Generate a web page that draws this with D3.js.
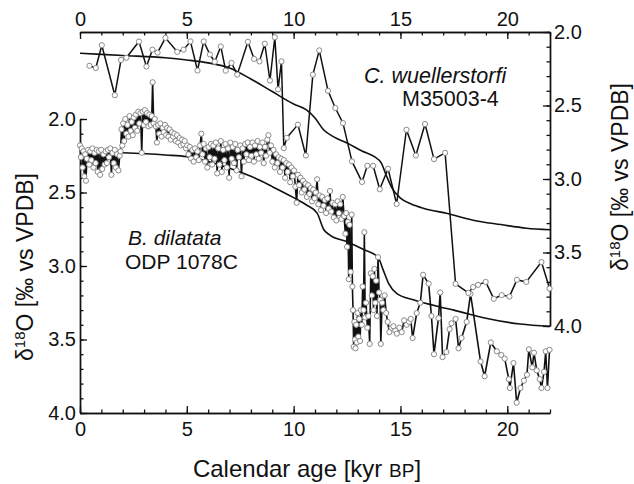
<!DOCTYPE html>
<html>
<head>
<meta charset="utf-8">
<script src="https://cdn.jsdelivr.net/npm/d3@7"></script>
<style>
  html, body { margin: 0; padding: 0; background: #fff; }
  svg { display: block; font-family: "Liberation Sans", Arial, sans-serif; }
</style>
</head>
<body>
<svg id="chart" width="634" height="484"></svg>
<script>
// ---------- DATA ----------
// C. wuellerstorfi, core M35003-4 (right axis): [age kyr BP, d18O]
const wuellerstorfi = [
  [0.44,2.23],[0.74,2.245],[1.02,2.09],[1.63,2.43],[1.92,2.19],[2.17,2.175],[2.76,2.065],
  [3.11,2.235],[3.39,2.12],[3.63,2.14],[4.00,2.04],[4.55,2.135],[4.85,2.12],[5.17,2.064],
  [5.50,2.262],[5.79,2.064],[6.08,2.153],[6.31,2.202],[6.59,2.098],[6.82,2.263],[7.09,2.21],
  [7.36,2.29],[7.86,2.067],[8.15,2.183],[8.40,2.2],[8.65,2.08],[8.89,2.33],[9.12,2.036],
  [9.27,2.39],[9.43,2.2],[9.54,2.79],[9.68,2.72],[10.2,2.63],[10.57,2.84],[10.9,2.29],
  [11.2,2.125],[11.61,2.40],[11.95,2.517],[12.31,2.62],[12.73,2.88],[13.2,3.02],[13.45,2.91],
  [13.72,2.91],[14.03,3.07],[14.42,2.93],[14.82,3.17],[15.28,2.665],[15.72,2.84],[16.15,2.626],
  [16.57,2.865],[17.09,2.822],[17.58,3.713],[18.18,3.775],[18.4,3.735],[18.63,3.72],[18.99,3.70],
  [19.37,3.815],[19.74,3.79],[20.1,3.80],[20.45,3.686],[20.89,3.70],[21.6,3.565],[21.98,3.745]
];
// smooth reference curve on the right axis
const wuellerstorfiCurve = [
  [0,2.145],[2,2.16],[4,2.175],[5,2.19],[6,2.21],[7,2.245],[8,2.32],[9,2.405],[10,2.49],
  [10.6,2.53],[11.0,2.585],[11.4,2.665],[11.9,2.715],[12.5,2.755],[13.2,2.81],[13.8,2.85],
  [14.1,2.89],[14.35,2.98],[14.6,3.06],[15.0,3.13],[15.5,3.17],[16.1,3.2],[17.2,3.235],
  [18.4,3.28],[19.7,3.31],[20.9,3.335],[22.0,3.345]
];
// B. dilatata, ODP 1078C (left axis): [age kyr BP, d18O]
const dilatata = [
  [0.00,2.18],[0.04,2.26],[0.08,2.20],[0.12,2.33],[0.16,2.22],[0.20,2.39],[0.24,2.24],[0.28,2.42],
  [0.32,2.27],[0.38,2.21],[0.43,2.31],[0.48,2.22],[0.53,2.28],[0.58,2.20],[0.63,2.33],[0.68,2.23],
  [0.73,2.30],[0.78,2.21],[0.83,2.36],[0.88,2.22],[0.94,2.38],[0.99,2.21],[1.04,2.34],[1.10,2.24],
  [1.15,2.31],[1.20,2.22],[1.26,2.30],[1.31,2.21],[1.36,2.26],[1.42,2.20],[1.47,2.38],[1.52,2.23],
  [1.58,2.30],[1.63,2.21],[1.68,2.33],[1.74,2.24],[1.80,2.35],[1.86,2.25],[1.90,2.22],
  [1.94,2.07],[1.98,2.18],[2.02,2.03],[2.07,2.15],[2.12,2.00],[2.17,2.10],[2.22,2.04],[2.27,2.12],
  [2.32,1.98],[2.37,2.08],[2.42,2.02],[2.47,2.11],[2.52,1.99],[2.57,2.06],[2.62,1.97],[2.68,2.08],
  [2.73,1.95],[2.78,2.03],[2.83,1.96],[2.89,2.23],[2.94,1.95],[2.99,2.04],[3.04,1.94],[3.09,2.02],
  [3.14,1.96],[3.20,2.05],[3.25,1.97],[3.31,2.04],[3.36,1.98],[3.40,1.75],[3.45,2.03],[3.50,2.00],
  [3.55,2.05],[3.60,2.16],[3.66,2.04],[3.71,2.10],[3.76,2.03],[3.82,2.12],[3.87,2.06],[3.92,2.09],
  [3.98,2.04],[4.03,2.11],[4.08,2.06],[4.14,2.12],[4.19,2.07],[4.25,2.14],[4.30,2.09],[4.36,2.12],
  [4.42,2.10],[4.48,2.15],[4.54,2.11],[4.60,2.16],[4.66,2.13],[4.72,2.18],[4.78,2.14],[4.84,2.17],
  [4.90,2.15],[4.96,2.20],[5.02,2.18],[5.08,2.24],[5.14,2.19],[5.20,2.27],[5.26,2.21],[5.32,2.29],
  [5.38,2.20],[5.44,2.26],[5.50,2.22],[5.56,2.28],[5.62,2.18],[5.68,2.10],[5.73,2.24],[5.79,2.17],
  [5.85,2.29],[5.90,2.20],[5.96,2.33],[6.02,2.19],[6.07,2.26],[6.13,2.17],[6.19,2.31],[6.24,2.18],
  [6.30,2.27],[6.36,2.16],[6.42,2.37],[6.47,2.20],[6.53,2.31],[6.59,2.15],[6.64,2.36],[6.70,2.21],
  [6.76,2.28],[6.81,2.17],[6.87,2.33],[6.93,2.20],[6.98,2.40],[7.04,2.16],[7.10,2.27],[7.15,2.19],
  [7.21,2.30],[7.27,2.17],[7.33,2.35],[7.38,2.21],[7.44,2.26],[7.50,2.18],[7.56,2.39],[7.61,2.20],
  [7.67,2.29],[7.73,2.17],[7.79,2.24],[7.85,2.16],[7.91,2.28],[7.96,2.19],[8.02,2.25],[8.08,2.16],
  [8.14,2.29],[8.19,2.18],[8.25,2.24],[8.31,2.15],[8.37,2.27],[8.42,2.19],[8.48,2.23],[8.54,2.16],
  [8.60,2.30],[8.66,2.19],[8.71,2.25],[8.77,2.14],[8.82,2.11],[8.88,2.23],[8.94,2.18],
  [9.00,2.29],[9.06,2.21],[9.12,2.33],[9.18,2.24],[9.24,2.30],[9.30,2.26],[9.36,2.36],[9.42,2.27],
  [9.48,2.33],[9.54,2.28],[9.60,2.40],[9.66,2.30],[9.72,2.36],[9.78,2.31],[9.84,2.43],[9.90,2.33],
  [9.96,2.39],[10.02,2.35],[10.08,2.46],[10.14,2.57],[10.20,2.38],[10.26,2.45],[10.32,2.40],[10.38,2.50],
  [10.44,2.42],[10.50,2.48],[10.56,2.44],[10.62,2.53],[10.68,2.45],[10.74,2.51],[10.80,2.47],[10.86,2.56],
  [10.92,2.48],[10.98,2.54],[11.04,2.50],[11.10,2.41],[11.16,2.58],[11.22,2.52],[11.28,2.62],[11.34,2.53],
  [11.40,2.59],[11.46,2.55],[11.52,2.64],[11.58,2.54],[11.64,2.61],[11.70,2.49],[11.76,2.63],[11.82,2.57],
  [11.88,2.67],[11.94,2.58],[12.00,2.69],[12.06,2.56],[12.12,2.64],[12.18,2.58],[12.24,2.68],[12.30,2.53],
  [12.36,2.66],[12.42,2.78],[12.46,2.64],[12.50,2.87],[12.54,2.70],[12.58,3.09],[12.62,2.72],[12.67,3.04],
  [12.72,2.65],[12.75,3.14],[12.78,3.30],[12.81,3.55],[12.84,3.38],[12.87,3.50],[12.90,3.56],[12.93,3.40],
  [12.96,3.52],[12.99,3.32],[13.03,3.48],[13.07,3.36],[13.11,3.51],[13.15,3.30],[13.19,3.40],[13.23,3.14],
  [13.27,3.30],[13.31,2.77],[13.35,3.35],[13.39,3.25],[13.45,3.42],[13.50,3.34],[13.56,3.53],[13.61,3.05],
  [13.66,3.20],[13.70,3.07],[13.74,3.30],[13.78,3.02],[13.82,3.25],[13.86,3.10],[13.90,3.34],[13.95,2.94],
  [14.00,3.18],[14.05,3.23],[14.08,3.53],[14.14,3.25],[14.20,3.30],[14.26,3.20],[14.33,3.32],[14.40,3.38],
  [14.48,3.45],[14.58,3.42],[14.67,3.41],[14.76,3.44],[14.83,3.46],[14.95,3.42],[15.06,3.45],[15.17,3.37],
  [15.29,3.40],[15.40,3.38],[15.48,3.36],[15.57,3.49],[15.76,3.32],[15.93,3.25],[16.06,3.06],[16.32,3.12],
  [16.45,3.34],[16.57,3.60],[16.78,3.355],[16.86,3.18],[16.97,3.62],[17.15,3.585],[17.30,3.43],[17.39,3.39],
  [17.58,3.36],[17.72,3.56],[17.86,3.49],[18.10,3.38],[18.28,3.19],[18.75,3.65],[18.94,3.75],[19.23,3.52],
  [19.51,3.58],[19.72,3.605],[19.88,3.63],[20.07,3.77],[20.12,3.83],[20.29,3.66],[20.44,3.93],[20.62,3.83],
  [20.78,3.78],[20.92,3.74],[21.01,3.567],[21.17,3.69],[21.25,3.59],[21.38,3.71],[21.52,3.77],[21.60,3.83],
  [21.72,3.72],[21.80,3.58],[21.88,3.83],[21.98,3.57]
];
// smooth reference curve on the left axis
const dilatataCurve = [
  [0,2.222],[2,2.23],[4,2.245],[5,2.256],[6,2.29],[7,2.335],[8,2.39],[9,2.46],[10,2.535],
  [10.6,2.585],[11.1,2.64],[11.4,2.75],[11.7,2.79],[12.5,2.835],[13.3,2.89],[13.95,2.94],
  [14.2,3.03],[14.45,3.12],[14.85,3.19],[15.6,3.23],[16.9,3.28],[17.5,3.30],[19.0,3.355],
  [20.6,3.395],[22,3.41]
];
// ticks
const xMajorTicks = [0, 5, 10, 15, 20];
const xMinorTicks = [0,1,2,3,4,5,6,7,8,9,10,11,12,13,14,15,16,17,18,19,20,21,22];
const yMajorTicks = [2.0, 2.5, 3.0, 3.5, 4.0];
const yMinorTicks = [2.0,2.1,2.2,2.3,2.4,2.5,2.6,2.7,2.8,2.9,3.0,3.1,3.2,3.3,3.4,3.5,3.6,3.7,3.8,3.9,4.0];

// ---------- CHART ----------
const svg = d3.select("#chart");
const x = d3.scaleLinear().domain([0, 22]).range([80, 550]);
const yL = d3.scaleLinear().domain([2, 4]).range([119, 413]);
const yR = d3.scaleLinear().domain([2, 4]).range([32, 326]);

const tickFont = 20;
function styleAxis(g) {
  g.selectAll("path.domain").attr("stroke", "#111").attr("stroke-width", 1.4);
  g.selectAll(".tick line").attr("stroke", "#111").attr("stroke-width", 1.3);
  g.selectAll(".tick text").attr("font-size", tickFont).attr("fill", "#111")
    .attr("font-family", "Liberation Sans, Arial, sans-serif");
}
// minor ticks first
svg.append("g").attr("transform", "translate(0,413)")
  .call(d3.axisBottom(x).tickValues(xMinorTicks).tickSizeInner(-3.5).tickSizeOuter(0).tickFormat(""))
  .call(styleAxis);
svg.append("g").attr("transform", "translate(0,32)")
  .call(d3.axisTop(x).tickValues(xMinorTicks).tickSizeInner(-3.5).tickSizeOuter(0).tickFormat(""))
  .call(styleAxis);
svg.append("g").attr("transform", "translate(80,0)")
  .call(d3.axisLeft(yL).tickValues(yMinorTicks).tickSizeInner(-3.5).tickSizeOuter(0).tickFormat(""))
  .call(styleAxis);
svg.append("g").attr("transform", "translate(550,0)")
  .call(d3.axisRight(yR).tickValues(yMinorTicks).tickSizeInner(-3.5).tickSizeOuter(0).tickFormat(""))
  .call(styleAxis);
// major ticks with labels
svg.append("g").attr("transform", "translate(0,413)")
  .call(d3.axisBottom(x).tickValues(xMajorTicks).tickSizeInner(-7).tickSizeOuter(0).tickPadding(9).tickFormat(d3.format("d")))
  .call(styleAxis);
svg.append("g").attr("transform", "translate(0,32)")
  .call(d3.axisTop(x).tickValues(xMajorTicks).tickSizeInner(-7).tickSizeOuter(0).tickPadding(6).tickFormat(d3.format("d")))
  .call(styleAxis);
svg.append("g").attr("transform", "translate(80,0)")
  .call(d3.axisLeft(yL).tickValues(yMajorTicks).tickSizeInner(-7).tickSizeOuter(0).tickPadding(4).tickFormat(d3.format(".1f")))
  .call(styleAxis);
svg.append("g").attr("transform", "translate(550,0)")
  .call(d3.axisRight(yR).tickValues(yMajorTicks).tickSizeInner(-7).tickSizeOuter(0).tickPadding(4).tickFormat(d3.format(".1f")))
  .call(styleAxis);

// smooth curves
const curveLineR = d3.line().x(d => x(d[0])).y(d => yR(d[1])).curve(d3.curveMonotoneX);
const curveLineL = d3.line().x(d => x(d[0])).y(d => yL(d[1])).curve(d3.curveMonotoneX);
svg.append("path").datum(wuellerstorfiCurve).attr("d", curveLineR)
  .attr("fill", "none").attr("stroke", "#111").attr("stroke-width", 1.6);
svg.append("path").datum(dilatataCurve).attr("d", curveLineL)
  .attr("fill", "none").attr("stroke", "#111").attr("stroke-width", 1.6);

// data lines
const lineR = d3.line().x(d => x(d[0])).y(d => yR(d[1]));
const lineL = d3.line().x(d => x(d[0])).y(d => yL(d[1]));
svg.append("path").datum(wuellerstorfi).attr("d", lineR)
  .attr("fill", "none").attr("stroke", "#111").attr("stroke-width", 1.5).attr("stroke-linejoin", "round");
svg.append("path").datum(dilatata).attr("d", lineL)
  .attr("fill", "none").attr("stroke", "#111").attr("stroke-width", 1.6).attr("stroke-linejoin", "round");

// markers
const r = 2.6;
svg.append("g").selectAll("circle").data(dilatata).join("circle")
  .attr("cx", d => x(d[0])).attr("cy", d => yL(d[1])).attr("r", r)
  .attr("fill", "#fff").attr("stroke", "#8a8a8a").attr("stroke-width", 1);
svg.append("g").selectAll("circle").data(wuellerstorfi).join("circle")
  .attr("cx", d => x(d[0])).attr("cy", d => yR(d[1])).attr("r", r)
  .attr("fill", "#fff").attr("stroke", "#8a8a8a").attr("stroke-width", 1);

// annotations
const annFont = 21.5;
svg.append("text").attr("x", 364).attr("y", 83).attr("font-size", annFont)
  .attr("font-style", "italic").attr("fill", "#111").text("C. wuellerstorfi");
svg.append("text").attr("x", 402).attr("y", 106).attr("font-size", annFont)
  .attr("fill", "#111").text("M35003-4");
svg.append("text").attr("x", 128).attr("y", 245).attr("font-size", 21)
  .attr("font-style", "italic").attr("fill", "#111").text("B. dilatata");
svg.append("text").attr("x", 125).attr("y", 269).attr("font-size", 21)
  .attr("fill", "#111").text("ODP 1078C");

// axis titles
const xt = svg.append("text").attr("x", 307).attr("y", 477).attr("text-anchor", "middle")
  .attr("font-size", 24).attr("fill", "#111");
xt.append("tspan").text("Calendar age [kyr ");
xt.append("tspan").attr("font-size", 19).text("BP");
xt.append("tspan").text("]");

function yTitle(cx, cy) {
  const t = svg.append("text").attr("transform", `translate(${cx},${cy}) rotate(-90)`)
    .attr("text-anchor", "middle").attr("font-size", 23).attr("fill", "#111");
  t.append("tspan").text("δ");
  t.append("tspan").attr("font-size", 15).attr("dy", -8).text("18");
  t.append("tspan").attr("dy", 8).text("O [‰ vs VPDB]");
}
yTitle(33, 267);
yTitle(628, 177);
</script>
</body>
</html>
